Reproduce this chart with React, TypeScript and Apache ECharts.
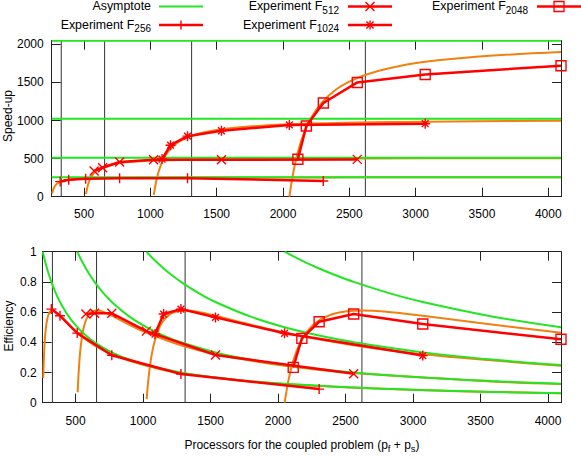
import React, { useEffect, useRef } from 'react';
import * as echarts from 'echarts';

const FONT = '"Liberation Sans", Arial, Helvetica, sans-serif';
const RED = '#ff0000';
const ORANGE = '#f0800f';
const GREEN = '#22e622';
const FRAME = '#222222';

// ---- axes ----
const xTicks = [500, 1000, 1500, 2000, 2500, 3000, 3500, 4000];
const speedTicks = [0, 500, 1000, 1500, 2000];
const effTicks = [0, 0.2, 0.4, 0.6, 0.8, 1];
const pMin = 256;
const pMax = 4096;
const speedMax = 2048;
const effMax = 1;

// ---- asymptotes (problem sizes) and optimal-efficiency markers ----
const problemSizes = [256, 512, 1024, 2048];
const optimalP = [328, 655, 1311, 2621];

// ---- experiments ----
const expP256 = [320, 384, 512, 768, 1280, 2304];
const expS256 = [198, 222, 236, 241, 242, 207];
const expE256 = [0.62, 0.576, 0.461, 0.314, 0.19, 0.09];

const expP512 = [576, 640, 768, 1024, 1536, 2560];
const expS512 = [338, 380, 455, 485, 485, 490];
const expE512 = [0.587, 0.593, 0.592, 0.474, 0.316, 0.191];

const expP1024 = [1088, 1152, 1280, 1536, 2048, 3072];
const expS1024 = [494, 676, 795, 866, 942, 958];
const expE1024 = [0.455, 0.587, 0.62, 0.565, 0.46, 0.312];

const expP2048 = [2112, 2176, 2304, 2560, 3072, 4096];
const expS2048 = [492, 928, 1230, 1500, 1605, 1720];
const expE2048 = [0.234, 0.426, 0.536, 0.587, 0.521, 0.42];

// ---- model curves (orange) ----
const modelP256 = [260, 264, 269, 277, 287, 300, 312, 328, 348, 384, 435, 512, 640, 768, 1024, 1280, 1792, 2304, 2816, 3328, 4096];
const modelS256 = [42.5, 73.0, 100.7, 130.9, 155.3, 175.8, 188.5, 200.2, 210.1, 221.3, 230.2, 237.4, 243.3, 246.4, 249.5, 251.1, 252.7, 253.5, 254.0, 254.3, 254.7];
const modelE256 = [0.163, 0.277, 0.374, 0.473, 0.541, 0.586, 0.604, 0.61, 0.604, 0.576, 0.529, 0.464, 0.38, 0.321, 0.244, 0.196, 0.141, 0.11, 0.09, 0.076, 0.062];

const modelP512 = [515, 520, 528, 538, 554, 574, 600, 624, 656, 696, 768, 870, 1024, 1280, 1536, 2048, 2560, 3584, 4096];
const modelS512 = [35.6, 85.0, 145.9, 201.3, 261.7, 310.7, 351.7, 377.0, 400.3, 420.2, 442.6, 460.3, 474.8, 486.6, 492.7, 498.9, 502.2, 505.4, 506.3];
const modelE512 = [0.069, 0.163, 0.277, 0.374, 0.473, 0.541, 0.586, 0.604, 0.61, 0.604, 0.576, 0.529, 0.464, 0.38, 0.321, 0.244, 0.196, 0.141, 0.124];

const modelP1024 = [1026, 1040, 1056, 1076, 1108, 1148, 1200, 1248, 1312, 1392, 1536, 1740, 2048, 2560, 3072, 4096];
const modelS1024 = [24.9, 170.0, 291.8, 402.6, 523.5, 621.4, 703.4, 754.1, 800.7, 840.5, 885.2, 920.7, 949.6, 973.1, 985.4, 997.9];
const modelE1024 = [0.024, 0.163, 0.277, 0.374, 0.473, 0.541, 0.586, 0.604, 0.61, 0.604, 0.576, 0.529, 0.464, 0.38, 0.321, 0.244];

const modelP2048 = [2048, 2080, 2112, 2152, 2216, 2296, 2400, 2496, 2624, 2784, 3072, 3480, 4096];
const modelS2048 = [0, 340, 583.7, 805.3, 1047, 1242.7, 1406.8, 1508.1, 1601.3, 1681, 1770.5, 1841.4, 1899.1];
const modelE2048 = [0, 0.163, 0.277, 0.374, 0.473, 0.541, 0.586, 0.604, 0.61, 0.604, 0.576, 0.529, 0.464];

// ---- asymptotic efficiency curves (green) ----
const asymP256 = [256, 272, 288, 304, 320, 352, 384, 448, 512, 576, 640, 768, 896, 1024, 1280, 1536, 1792, 2048, 2560, 3072, 3584, 4096];
const asymE256 = [1, 0.9412, 0.8889, 0.8421, 0.8, 0.7273, 0.6667, 0.5714, 0.5, 0.4444, 0.4, 0.3333, 0.2857, 0.25, 0.2, 0.1667, 0.1429, 0.125, 0.1, 0.0833, 0.0714, 0.0625];
const asymP512 = [512, 544, 576, 608, 640, 704, 768, 896, 1024, 1152, 1280, 1536, 1792, 2048, 2560, 3072, 3584, 4096];
const asymE512 = [1, 0.9412, 0.8889, 0.8421, 0.8, 0.7273, 0.6667, 0.5714, 0.5, 0.4444, 0.4, 0.3333, 0.2857, 0.25, 0.2, 0.1667, 0.1429, 0.125];
const asymP1024 = [1024, 1088, 1152, 1216, 1280, 1408, 1536, 1792, 2048, 2304, 2560, 3072, 3584, 4096];
const asymE1024 = [1, 0.9412, 0.8889, 0.8421, 0.8, 0.7273, 0.6667, 0.5714, 0.5, 0.4444, 0.4, 0.3333, 0.2857, 0.25];
const asymP2048 = [2048, 2176, 2304, 2432, 2560, 2816, 3072, 3584, 4096];
const asymE2048 = [1, 0.9412, 0.8889, 0.8421, 0.8, 0.7273, 0.6667, 0.5714, 0.5];

const PLUS = 'path://M5,0L5,10M0,5L10,5';
const CROSS = 'path://M0,0L10,10M10,0L0,10';
const STAR = 'path://M5,0L5,10M0,5L10,5M1.6,1.6L8.4,8.4M8.4,1.6L1.6,8.4';
const SQUARE = 'path://M0,0L10,0L10,10L0,10Z';

const zip = (xs: number[], ys: number[]) => xs.map((x, i) => [x, ys[i]]);

let _ctx: CanvasRenderingContext2D | null = null;
function measure(text: string, size: number): number {
  if (!_ctx) _ctx = document.createElement('canvas').getContext('2d');
  if (!_ctx) return text.length * size * 0.55;
  _ctx.font = `${size}px ${FONT}`;
  return _ctx.measureText(text).width;
}

type Seg = { t: string; sub?: boolean };
function richLine(segs: Seg[], x: number, y: number, size: number, align: 'left' | 'right' | 'center', subSize: number, subDy: number): any[] {
  const widths = segs.map((s) => measure(s.t, s.sub ? subSize : size));
  const total = widths.reduce((a, b) => a + b, 0);
  let cx = align === 'left' ? x : align === 'right' ? x - total : x - total / 2;
  const els: any[] = [];
  segs.forEach((s, i) => {
    els.push({
      type: 'text',
      x: cx,
      y: s.sub ? y + subDy : y,
      silent: true,
      style: {
        text: s.t,
        font: `${s.sub ? subSize : size}px ${FONT}`,
        fill: '#000',
        textAlign: 'left',
        textVerticalAlign: 'middle',
      },
    });
    cx += widths[i];
  });
  return els;
}

function seg(x1: number, y1: number, x2: number, y2: number, color: string, w: number) {
  return { type: 'line', silent: true, shape: { x1, y1, x2, y2 }, style: { stroke: color, lineWidth: w } };
}

function markerEls(kind: string, cx: number, cy: number): any[] {
  const s = 4.5;
  const d = 3.6;
  const plus = [seg(cx - s, cy, cx + s, cy, RED, 1.4), seg(cx, cy - s, cx, cy + s, RED, 1.4)];
  const cross = [seg(cx - d, cy - d, cx + d, cy + d, RED, 1.4), seg(cx + d, cy - d, cx - d, cy + d, RED, 1.4)];
  if (kind === 'plus') return plus;
  if (kind === 'cross') return [seg(cx - s, cy - s, cx + s, cy + s, RED, 1.4), seg(cx + s, cy - s, cx - s, cy + s, RED, 1.4)];
  if (kind === 'star') return [...plus, ...cross];
  return [{ type: 'rect', silent: true, shape: { x: cx - 5, y: cy - 5, width: 10, height: 10 }, style: { stroke: RED, fill: 'none', lineWidth: 1.3 } }];
}

function legendItem(label: Seg[], textRight: number, y: number, lx1: number, lx2: number, color: string, kind: string | null): any[] {
  const els = richLine(label, textRight, y, 12.4, 'right', 10, 4);
  els.push(seg(lx1, y + 0.5, lx2, y + 0.5, color, color === RED ? 2.5 : 2));
  if (kind) els.push(...markerEls(kind, (lx1 + lx2) / 2, y + 0.5));
  return els;
}

const plainNum = (v: number) => String(v);

function xAx(grid: number, pos: 'top' | 'bottom', labels: boolean, margin: number) {
  return {
    type: 'value',
    gridIndex: grid,
    position: pos,
    min: pMin,
    max: pMax,
    axisLine: { show: true, onZero: false, lineStyle: { color: FRAME, width: 1 } },
    axisTick: { show: true, inside: true, length: 9, customValues: xTicks, lineStyle: { color: FRAME, width: 1 } },
    axisLabel: { show: labels, customValues: xTicks, margin, color: '#000', fontSize: 12, fontFamily: FONT, formatter: plainNum },
    splitLine: { show: false },
  };
}

function yAx(grid: number, pos: 'left' | 'right', labels: boolean, max: number, ticks: number[], margin: number) {
  return {
    type: 'value',
    gridIndex: grid,
    position: pos,
    min: 0,
    max,
    axisLine: { show: true, onZero: false, lineStyle: { color: FRAME, width: 1 } },
    axisTick: { show: true, inside: true, length: 9, customValues: ticks, lineStyle: { color: FRAME, width: 1 } },
    axisLabel: { show: labels, customValues: ticks, margin, color: '#000', fontSize: 12, fontFamily: FONT, formatter: plainNum },
    splitLine: { show: false },
  };
}

function lineSeries(data: number[][], xi: number, yi: number, color: string, width: number, z: number, smooth: number | boolean) {
  return {
    type: 'line',
    xAxisIndex: xi,
    yAxisIndex: yi,
    data,
    symbol: 'none',
    showSymbol: false,
    smooth,
    lineStyle: { color, width },
    itemStyle: { color },
    z,
    silent: true,
  };
}

function expSeries(xs: number[], ys: number[], xi: number, yi: number, symbol: string, size: number) {
  return {
    type: 'line',
    xAxisIndex: xi,
    yAxisIndex: yi,
    data: zip(xs, ys),
    symbol,
    symbolSize: size,
    showSymbol: true,
    clip: false,
    lineStyle: { color: RED, width: 2.5 },
    itemStyle: { color: 'rgba(0,0,0,0)', borderColor: RED, borderWidth: 1.4 },
    z: 5,
    silent: true,
  };
}

function buildOption(): any {
  const series: any[] = [];
  optimalP.forEach((p) => {
    series.push(lineSeries([[p, 0], [p, speedMax]], 0, 0, '#333', 1, 1, false));
    series.push(lineSeries([[p, 0], [p, effMax]], 2, 2, '#333', 1, 1, false));
  });
  const models = [
    [modelP256, modelS256, modelE256],
    [modelP512, modelS512, modelE512],
    [modelP1024, modelS1024, modelE1024],
    [modelP2048, modelS2048, modelE2048],
  ];
  models.forEach(([p, s, e]) => {
    series.push(lineSeries(zip(p, s), 0, 0, ORANGE, 2, 2, 0.35));
    series.push(lineSeries(zip(p, e), 2, 2, ORANGE, 2, 2, 0.35));
  });
  problemSizes.forEach((n) => {
    series.push(lineSeries([[pMin, n], [pMax, n]], 0, 0, GREEN, 2, 3, false));
  });
  const asym = [
    [asymP256, asymE256],
    [asymP512, asymE512],
    [asymP1024, asymE1024],
    [asymP2048, asymE2048],
  ];
  asym.forEach(([p, e]) => series.push(lineSeries(zip(p, e), 2, 2, GREEN, 2, 3, 0.35)));
  series.push(expSeries(expP256, expS256, 0, 0, PLUS, 10));
  series.push(expSeries(expP512, expS512, 0, 0, CROSS, 9));
  series.push(expSeries(expP1024, expS1024, 0, 0, STAR, 10));
  series.push(expSeries(expP2048, expS2048, 0, 0, SQUARE, 10));
  series.push(expSeries(expP256, expE256, 2, 2, PLUS, 10));
  series.push(expSeries(expP512, expE512, 2, 2, CROSS, 9));
  series.push(expSeries(expP1024, expE1024, 2, 2, STAR, 10));
  series.push(expSeries(expP2048, expE2048, 2, 2, SQUARE, 10));

  const graphics: any[] = [];
  const r1 = 6;
  const r2 = 24.5;
  graphics.push(...legendItem([{ t: 'Asymptote' }], 151, r1, 159, 203, GREEN, null));
  graphics.push(...legendItem([{ t: 'Experiment F' }, { t: '512', sub: true }], 339, r1, 348, 392, RED, 'cross'));
  graphics.push(...legendItem([{ t: 'Experiment F' }, { t: '2048', sub: true }], 528, r1, 537, 581, RED, 'square'));
  graphics.push(...legendItem([{ t: 'Experiment F' }, { t: '256', sub: true }], 151, r2, 159, 203, RED, 'plus'));
  graphics.push(...legendItem([{ t: 'Experiment F' }, { t: '1024', sub: true }], 339, r2, 348, 392, RED, 'star'));

  graphics.push({
    type: 'text', x: 8, y: 116, rotation: Math.PI / 2, silent: true,
    style: { text: 'Speed-up', font: `12px ${FONT}`, fill: '#000', textAlign: 'center', textVerticalAlign: 'middle' },
  });
  graphics.push({
    type: 'text', x: 9, y: 326, rotation: Math.PI / 2, silent: true,
    style: { text: 'Efficiency', font: `12px ${FONT}`, fill: '#000', textAlign: 'center', textVerticalAlign: 'middle' },
  });
  graphics.push(
    ...richLine(
      [{ t: 'Processors for the coupled problem (p' }, { t: 'f', sub: true }, { t: ' + p' }, { t: 's', sub: true }, { t: ')' }],
      302, 445, 12, 'center', 9.5, 3.5,
    ),
  );

  return {
    animation: false,
    backgroundColor: '#ffffff',
    grid: [
      { left: 51.7, right: 20, top: 40.7, height: 156 },
      { left: 42.7, right: 20, top: 251.7, height: 151 },
    ],
    xAxis: [xAx(0, 'bottom', true, 11), xAx(0, 'top', false, 8), xAx(1, 'bottom', true, 12), xAx(1, 'top', false, 8)],
    yAxis: [
      yAx(0, 'left', true, speedMax, speedTicks, 8),
      yAx(0, 'right', false, speedMax, speedTicks, 8),
      yAx(1, 'left', true, effMax, effTicks, 6),
      yAx(1, 'right', false, effMax, effTicks, 6),
    ],
    series,
    graphic: { elements: graphics },
  };
}

export default function App() {
  const ref = useRef<HTMLDivElement>(null);
  useEffect(() => {
    if (!ref.current) return;
    const chart = echarts.init(ref.current, null, { renderer: 'svg' });
    chart.setOption(buildOption());
    return () => chart.dispose();
  }, []);
  return <div ref={ref} style={{ position: 'absolute', left: 0, top: 0, width: 581, height: 458 }} />;
}
